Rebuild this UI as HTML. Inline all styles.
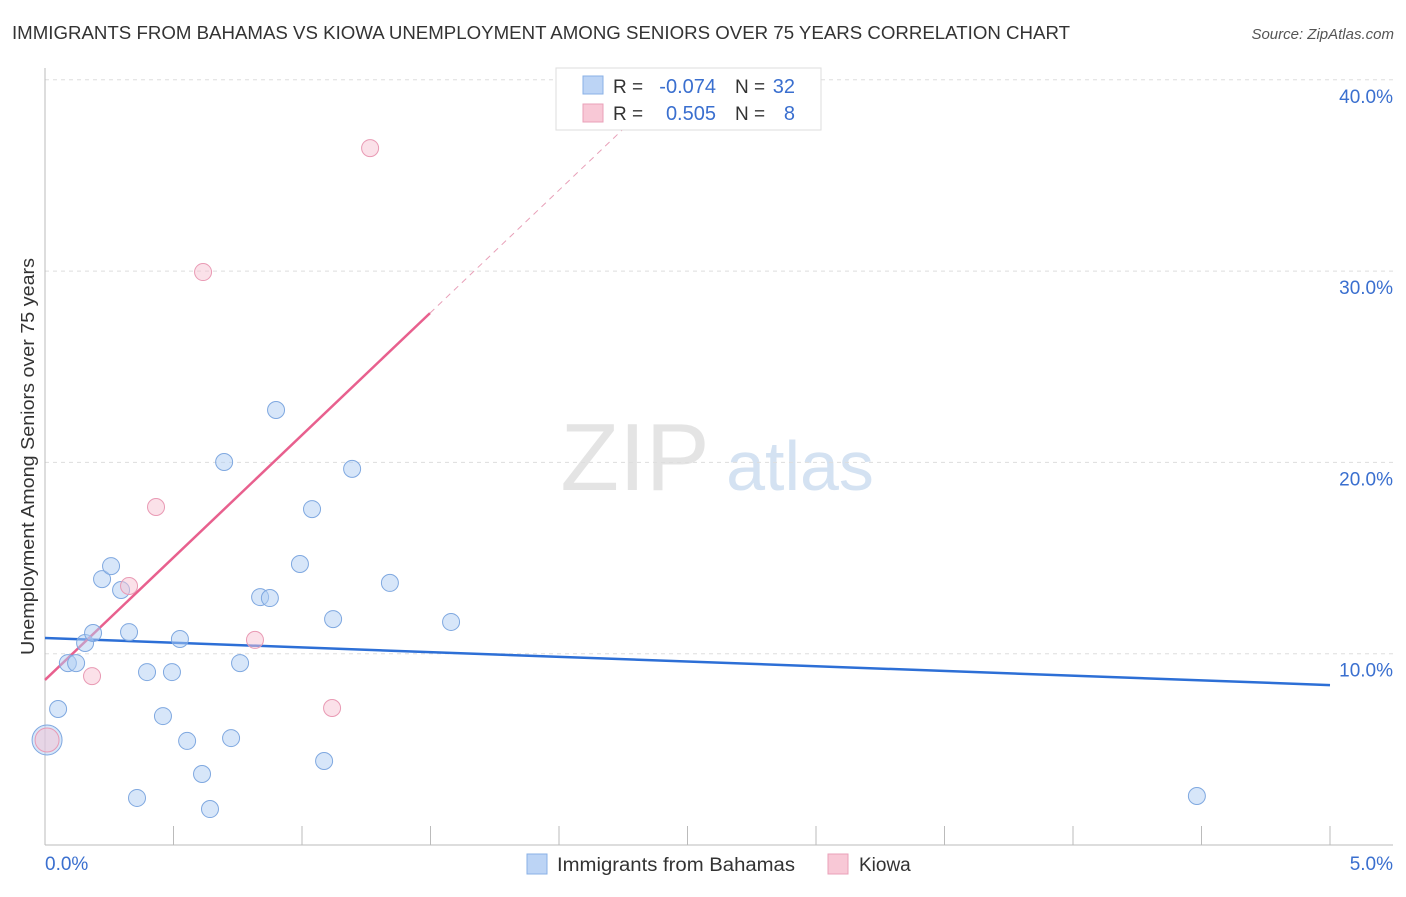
<!DOCTYPE html>
<html><head><meta charset="utf-8"><style>
body{margin:0;background:#fff;font-family:"Liberation Sans",sans-serif;}
svg text{font-family:"Liberation Sans",sans-serif;}
</style></head><body>
<svg id="chart" width="1406" height="892" xmlns="http://www.w3.org/2000/svg">
<text x="12" y="39" font-size="18" fill="#333" textLength="1058" lengthAdjust="spacingAndGlyphs">IMMIGRANTS FROM BAHAMAS VS KIOWA UNEMPLOYMENT AMONG SENIORS OVER 75 YEARS CORRELATION CHART</text>
<text x="1394" y="39" font-size="15" fill="#555" font-style="italic" text-anchor="end">Source: ZipAtlas.com</text>
<text transform="translate(34,655) rotate(-90)" font-size="18" fill="#333" textLength="397" lengthAdjust="spacingAndGlyphs">Unemployment Among Seniors over 75 years</text>
<g>
<text x="635" y="490" font-size="96" fill="#e4e4e4" font-family="Liberation Serif" text-anchor="middle">ZIP</text>
<text x="800" y="490" font-size="70" fill="#d4e2f2" text-anchor="middle">atlas</text>
</g>
<g id="grid"></g>
<g id="axes"></g>
<g id="lines"></g>
<g id="points"></g>
<g>
<rect x="556" y="68" width="265" height="62" fill="#fff" stroke="#ddd"/>
<rect x="583" y="76" width="20" height="18" fill="#bcd4f5" stroke="#8ab0e6"/>
<rect x="583" y="104" width="20" height="18" fill="#f8c8d6" stroke="#eaa0b8"/>
<text x="613" y="93" font-size="19" fill="#333">R =</text>
<text x="716" y="93" font-size="20" fill="#3a6fcf" text-anchor="end">-0.074</text>
<text x="735" y="93" font-size="19" fill="#333">N =</text>
<text x="795" y="93" font-size="20" fill="#3a6fcf" text-anchor="end">32</text>
<text x="613" y="120" font-size="19" fill="#333">R =</text>
<text x="716" y="120" font-size="20" fill="#3a6fcf" text-anchor="end">0.505</text>
<text x="735" y="120" font-size="19" fill="#333">N =</text>
<text x="795" y="120" font-size="20" fill="#3a6fcf" text-anchor="end">8</text>
</g>
<g>
<rect x="527" y="854" width="20" height="20" fill="#bcd4f5" stroke="#8ab0e6"/>
<text x="557" y="871" font-size="19" fill="#333" textLength="238" lengthAdjust="spacingAndGlyphs">Immigrants from Bahamas</text>
<rect x="828" y="854" width="20" height="20" fill="#f8c8d6" stroke="#eaa0b8"/>
<text x="859" y="871" font-size="19" fill="#333">Kiowa</text>
</g>
</svg>
<script>
const blueX=[0.051,0.008,0.089,0.121,0.156,0.187,0.222,0.257,0.296,0.327,0.358,0.397,0.459,0.494,0.525,0.553,0.611,0.642,0.697,0.724,0.759,0.837,0.875,0.899,0.992,1.039,1.086,1.121,1.195,1.342,1.580,4.482];
const blueY=[7.11,5.49,9.51,9.51,10.56,11.08,13.90,14.58,13.33,11.13,2.46,9.04,6.74,9.04,10.77,5.44,3.71,1.88,20.02,5.59,9.51,12.96,12.91,22.74,14.69,17.56,4.39,11.81,19.66,13.70,11.66,2.56];
const pinkX=[0.008,0.183,0.327,0.432,0.615,0.817,1.117,1.265];
const pinkY=[5.49,8.83,13.54,17.67,29.95,10.72,7.16,36.43];
const blueTrend=[10.82,8.36];
const pinkTrend=[8.63,12.8];
const yTicks=[10,20,30,40];
const xLabels=["0.0%","5.0%"];
const NS="http://www.w3.org/2000/svg";
const X=v=>45+v*257;
const Y=v=>845-v*19.13;
function mk(t,a,p){const e=document.createElementNS(NS,t);for(const k in a)e.setAttribute(k,a[k]);document.getElementById(p).appendChild(e);return e;}
yTicks.forEach(t=>{
 const l=mk('line',{x1:45,x2:1393,y1:Y(t),y2:Y(t),stroke:'#ddd','stroke-dasharray':'4,4'},'grid');
 
 
 const tx=mk('text',{x:1393,y:Y(t)+23,'font-size':19,fill:'#3a6fcf','text-anchor':'end'},'grid');
 tx.textContent=t.toFixed(1)+'%';
 
 
});
let a=mk('line',{x1:45,x2:45,y1:68,y2:845,stroke:'#bbb'},'axes');


a=mk('line',{x1:45,x2:1393,y1:845,y2:845,stroke:'#bbb'},'axes');


for(let i=1;i<=10;i++){const t=mk('line',{x1:X(i*0.5),x2:X(i*0.5),y1:826,y2:845,stroke:'#bbb'},'axes');
 
 }
[[0,'start',45],[5,'end',1393]].forEach((d,i)=>{const t=mk('text',{x:d[2],y:870,'font-size':19,fill:'#3a6fcf','text-anchor':d[1]},'axes');t.textContent=xLabels[i];
 
 });
let tl=mk('line',{x1:X(0),y1:Y(blueTrend[0]),x2:X(5),y2:Y(blueTrend[1]),stroke:'#2d6fd6','stroke-width':2.5},'lines');


const px=1.498, pe=(40-pinkTrend[0])/pinkTrend[1];
tl=mk('line',{x1:X(0),y1:Y(pinkTrend[0]),x2:X(px),y2:Y(pinkTrend[0]+pinkTrend[1]*px),stroke:'#e8608e','stroke-width':2.5},'lines');


tl=mk('line',{x1:X(px),y1:Y(pinkTrend[0]+pinkTrend[1]*px),x2:X(pe),y2:Y(40),stroke:'#e8a0b8','stroke-width':1,'stroke-dasharray':'6,5'},'lines');


blueX.forEach((x,i)=>{const c=mk('circle',{cx:X(x),cy:Y(blueY[i]),r:i==1?15:8.5,fill:'rgba(175,205,243,0.5)',stroke:'#7fa8e0','stroke-width':1},'points');
 
 });
pinkX.forEach((x,i)=>{const c=mk('circle',{cx:X(x),cy:Y(pinkY[i]),r:i==0?12:8.5,fill:'rgba(248,195,212,0.5)',stroke:'#e99ab4','stroke-width':1},'points');
 
 });
</script>
</body></html>
